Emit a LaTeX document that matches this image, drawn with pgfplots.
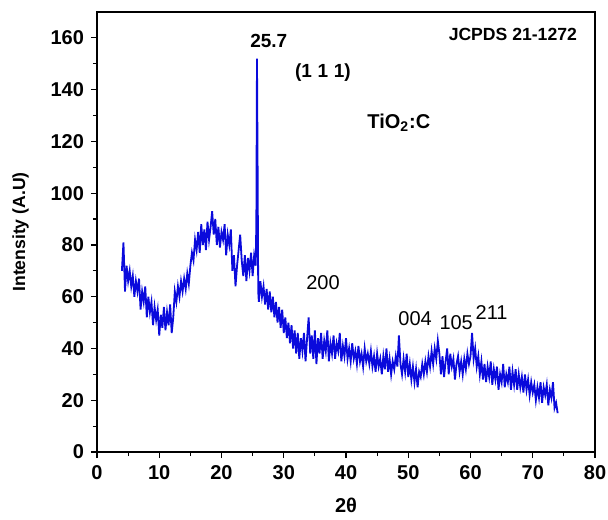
\documentclass[border=0pt]{standalone}
\usepackage{fontspec}
\setmainfont{Liberation Sans}
\usepackage{pgfplots}
\pgfplotsset{compat=1.18}
\begin{document}
\begin{tikzpicture}[x=1pt,y=1pt]
\begin{axis}[
  name=ax,
  scale only axis,
  width=249pt, height=220pt,
  xmin=0, xmax=80, ymin=0, ymax=170,
  xtick={0,10,...,80}, ytick={0,20,...,160},
  minor xtick={5,15,...,75}, minor ytick={10,30,...,150},
  xtick pos=bottom, ytick pos=left,
  tick align=outside,
  major tick length=3pt, minor tick length=2pt,
  axis line style={line width=0.7pt},
  every tick/.style={black, line width=0.6pt},
  /pgf/number format/assume math mode=true,
  ticklabel style={font=\fontsize{10}{11}\selectfont\bfseries},
  xlabel={\fontsize{10}{11}\selectfont\bfseries 2θ},
  ylabel={\fontsize{8.8}{9}\selectfont\bfseries Intensity (A.U)},
  xlabel style={at={(0.5,-0.088)}, anchor=north},
  ylabel style={at={(-0.123,0.5)}, anchor=south},
  clip=false,
]
\addplot[color={rgb,255:red,10;green,10;blue,220}, line width=0.9pt] coordinates {
(4.00,70)(4.25,81)(4.50,62)(4.75,72)(5.00,66)(5.25,70)(5.50,64)(5.75,68)(6.00,60)(6.25,66)(6.50,62)(6.75,67)
(7.00,55)(7.25,62)(7.50,58)(7.75,64)(8.00,52)(8.25,60)(8.50,54)(8.75,58)(9.00,49)(9.25,56)(9.50,51)(9.75,55)
(10.00,45)(10.25,53)(10.50,48)(10.75,56)(11.00,47)(11.25,54)(11.50,49)(11.75,57)(12.00,46)(12.25,52)(12.50,62)(12.75,58)
(13.00,64)(13.25,60)(13.50,66)(13.75,62)(14.00,67)(14.25,63)(14.50,69)(14.75,65)(15.00,72)(15.25,77)(15.50,74)(15.75,82)
(16.00,78)(16.25,85)(16.50,77)(16.75,88)(17.00,80)(17.25,86)(17.50,78)(17.75,89)(18.00,82)(18.25,87)(18.50,93)(18.75,84)
(19.00,90)(19.25,80)(19.50,87)(19.75,79)(20.00,85)(20.25,82)(20.50,88)(20.75,76)(21.00,84)(21.25,80)(21.50,86)(21.75,70)
(22.00,76)(22.25,64)(22.50,72)(22.75,78)(23.00,84)(23.25,74)(23.50,68)(23.75,76)(24.00,66)(24.25,75)(24.50,70)(24.75,77)
(25.00,68)(25.25,76)(25.50,72)(25.60,90)(25.70,152)(25.80,110)(25.90,62)(26.00,58)(26.25,66)(26.50,60)(26.75,64)
(27.00,57)(27.25,63)(27.50,55)(27.75,62)(28.00,54)(28.25,60)(28.50,52)(28.75,58)(29.00,50)(29.25,56)(29.50,48)(29.75,55)
(30.00,46)(30.25,52)(30.50,44)(30.75,50)(31.00,42)(31.25,49)(31.50,40)(31.75,47)(32.00,38)(32.25,46)(32.50,36)(32.75,44)
(33.00,39)(33.25,46)(33.50,35)(33.75,44)(34.00,52)(34.25,38)(34.50,45)(34.75,36)(35.00,47)(35.25,34)(35.50,44)(35.75,38)
(36.00,46)(36.25,36)(36.50,43)(36.75,39)(37.00,47)(37.25,35)(37.50,42)(37.75,38)(38.00,45)(38.25,36)(38.50,42)(38.75,39)
(39.00,46)(39.25,35)(39.50,41)(39.75,37)(40.00,44)(40.25,36)(40.50,40)(40.75,35)(41.00,42)(41.25,36)(41.50,39)(41.75,34)
(42.00,41)(42.25,35)(42.50,38)(42.75,33)(43.00,40)(43.25,35)(43.50,38)(43.75,34)(44.00,39)(44.25,33)(44.50,37)(44.75,31)
(45.00,38)(45.25,33)(45.50,36)(45.75,30)(46.00,37)(46.25,32)(46.50,40)(46.75,31)(47.00,36)(47.25,30)(47.50,35)(47.75,32)
(48.00,37)(48.25,33)(48.50,45)(48.75,34)(49.00,30)(49.25,36)(49.50,31)(49.75,38)(50.00,29)(50.25,34)(50.50,28)(50.75,33)
(51.00,27)(51.25,32)(51.50,25)(51.75,31)(52.00,29)(52.25,34)(52.50,30)(52.75,35)(53.00,31)(53.25,37)(53.50,33)(53.75,39)
(54.00,34)(54.25,40)(54.50,36)(54.75,43)(55.00,38)(55.25,30)(55.50,37)(55.75,29)(56.00,35)(56.25,40)(56.50,30)(56.75,38)
(57.00,33)(57.25,36)(57.50,28)(57.75,34)(58.00,37)(58.25,31)(58.50,35)(58.75,30)(59.00,36)(59.25,32)(59.50,38)(59.75,34)
(60.00,37)(60.25,46)(60.50,36)(60.75,40)(61.00,33)(61.25,37)(61.50,30)(61.75,35)(62.00,28)(62.25,34)(62.50,27)(62.75,33)
(63.00,29)(63.25,35)(63.50,26)(63.75,32)(64.00,28)(64.25,33)(64.50,24)(64.75,30)(65.00,27)(65.25,34)(65.50,25)(65.75,30)
(66.00,27)(66.25,33)(66.50,24)(66.75,31)(67.00,26)(67.25,32)(67.50,24)(67.75,30)(68.00,25)(68.25,29)(68.50,23)(68.75,30)
(69.00,24)(69.25,28)(69.50,22)(69.75,27)(70.00,23)(70.25,26)(70.50,20)(70.75,25)(71.00,21)(71.25,27)(71.50,19)(71.75,25)
(72.00,22)(72.25,26)(72.50,18)(72.75,24)(73.00,21)(73.25,27)(73.50,17)(73.75,19)(74.00,15)
};
\node[font=\fontsize{9.5}{10}\selectfont\bfseries] at (axis cs:27.6,158.8) {25.7};
\node[font=\fontsize{9.5}{10}\selectfont\bfseries] at (axis cs:36.3,146.5) {(1\hspace{0.3em}1\hspace{0.3em}1)};
\node[font=\fontsize{10}{11}\selectfont\bfseries] at (axis cs:48.5,127.2) {TiO\textsubscript{2}:C};
\node[font=\fontsize{8.8}{9}\selectfont\bfseries] at (axis cs:66.8,161.5) {JCPDS 21-1272};
\node[font=\fontsize{10}{11}\selectfont] at (axis cs:36.3,65.5) {200};
\node[font=\fontsize{10}{11}\selectfont] at (axis cs:51.1,51.7) {004};
\node[font=\fontsize{10}{11}\selectfont] at (axis cs:57.7,50.1) {105};
\node[font=\fontsize{10}{11}\selectfont] at (axis cs:63.4,54) {211};
\end{axis}
\pgfresetboundingbox
\path[use as bounding box] ([xshift=-48.5pt,yshift=-33.5pt]ax.south west) rectangle ([xshift=6.5pt,yshift=6pt]ax.north east);
\end{tikzpicture}
\end{document}
